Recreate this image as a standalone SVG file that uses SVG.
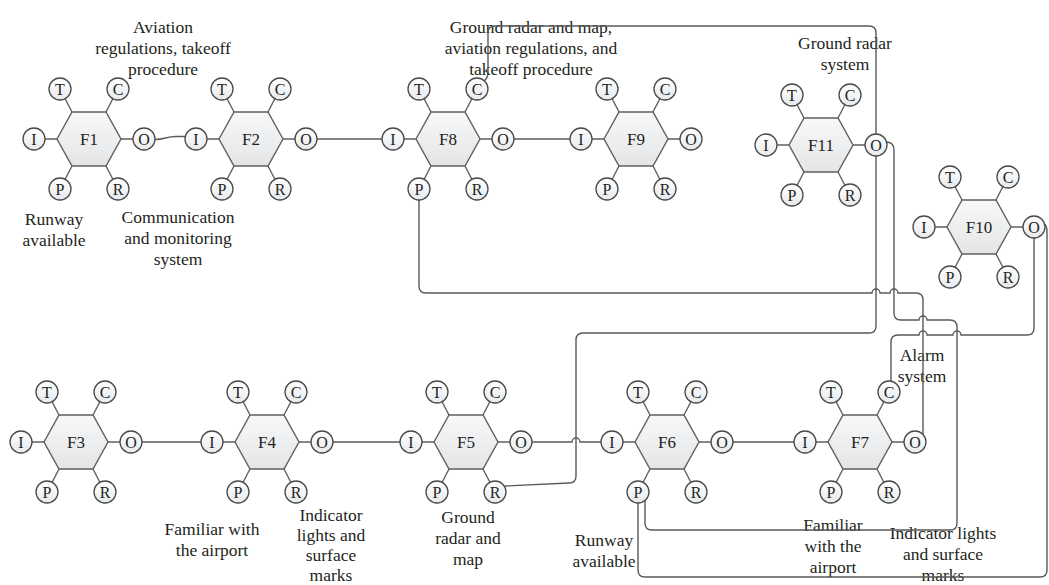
<svg xmlns="http://www.w3.org/2000/svg" xmlns:xlink="http://www.w3.org/1999/xlink" width="1049" height="585" viewBox="0 0 1049 585">
<style>
.hex{fill:url(#hexg);stroke:#5f5f5f;stroke-width:1.4}
.spoke{fill:none;stroke:#5f5f5f;stroke-width:1.4}
.asp{fill:url(#aspg);stroke:#4a4a4a;stroke-width:1.3}
.al{font-family:"Liberation Serif","Times New Roman",serif;font-size:16px;fill:#231f20;text-anchor:middle}
.fl{font-family:"Liberation Serif","Times New Roman",serif;font-size:17px;fill:#231f20;text-anchor:middle}
.lbl{font-family:"Liberation Serif","Times New Roman",serif;font-size:17.5px;fill:#231f20;text-anchor:middle}
.con{fill:none;stroke:#5a5a5a;stroke-width:1.4}
</style>
<defs>
<linearGradient id="hexg" x1="0" y1="0" x2="0" y2="1">
<stop offset="0" stop-color="#f7f8f9"/><stop offset="1" stop-color="#e3e5e7"/>
</linearGradient>
<linearGradient id="aspg" x1="0" y1="0" x2="0" y2="1">
<stop offset="0" stop-color="#ffffff"/><stop offset="1" stop-color="#e6eaee"/>
</linearGradient>
<g id="body">
<path class="spoke" d="M-32,0H-44 M32,0H44 M-17,-27L-23.9,-40.2 M17,-27L23.9,-40.2 M-17,27L-23.9,40.2 M17,27L23.9,40.2"/>
<polygon class="hex" points="-32,0 -17,-27 17,-27 32,0 17,27 -17,27"/>
<circle class="asp" cx="-55" cy="0" r="11"/>
<circle class="asp" cx="55" cy="0" r="11"/>
<circle class="asp" cx="-29" cy="-50" r="11"/>
<circle class="asp" cx="29" cy="-50" r="11"/>
<circle class="asp" cx="-29" cy="50" r="11"/>
<circle class="asp" cx="29" cy="50" r="11"/>
</g>
</defs>
<rect width="1049" height="585" fill="#ffffff"/>

<g id="labels">
<text class="lbl" x="163" y="33"><tspan x="163">Aviation</tspan><tspan x="163" dy="21">regulations, takeoff</tspan><tspan x="163" dy="21">procedure</tspan></text>
<text class="lbl" x="54" y="225"><tspan x="54">Runway</tspan><tspan x="54" dy="21">available</tspan></text>
<text class="lbl" x="178" y="223"><tspan x="178">Communication</tspan><tspan x="178" dy="21">and monitoring</tspan><tspan x="178" dy="21">system</tspan></text>
<text class="lbl" x="531" y="33"><tspan x="531">Ground radar and map,</tspan><tspan x="531" dy="21">aviation regulations, and</tspan><tspan x="531" dy="21">takeoff procedure</tspan></text>
<text class="lbl" x="845" y="49"><tspan x="845">Ground radar</tspan><tspan x="845" dy="21">system</tspan></text>
<text class="lbl" x="922" y="361"><tspan x="922">Alarm</tspan><tspan x="922" dy="21">system</tspan></text>
<text class="lbl" x="212" y="535"><tspan x="212">Familiar with</tspan><tspan x="212" dy="21">the airport</tspan></text>
<text class="lbl" x="331" y="521"><tspan x="331">Indicator</tspan><tspan x="331" dy="20">lights and</tspan><tspan x="331" dy="20">surface</tspan><tspan x="331" dy="20">marks</tspan></text>
<text class="lbl" x="468" y="523"><tspan x="468">Ground</tspan><tspan x="468" dy="21">radar and</tspan><tspan x="468" dy="21">map</tspan></text>
<text class="lbl" x="604" y="546"><tspan x="604">Runway</tspan><tspan x="604" dy="21">available</tspan></text>
<text class="lbl" x="833" y="531"><tspan x="833">Familiar</tspan><tspan x="833" dy="21">with the</tspan><tspan x="833" dy="21">airport</tspan></text>
<text class="lbl" x="943" y="539"><tspan x="943">Indicator lights</tspan><tspan x="943" dy="21">and surface</tspan><tspan x="943" dy="21">marks</tspan></text>
</g>

<g id="connectors">
<path class="con" d="M155,139.5 C165,139.5 166,136.5 176,136.5 L186,136.5"/>
<path class="con" d="M317,139 L382,139"/>
<path class="con" d="M514,139 L570,139"/>
<path class="con" d="M142,442 L201,442"/>
<path class="con" d="M333,442 L400,442"/>
<path class="con" d="M532,442 L572,442 A4,4 0 0 1 580,442 L601,442"/>
<path class="con" d="M733,442 L794,442"/>
<path class="con" d="M484,81 Q488,78 488,72 L488,33 Q488,26 495,26 L869,26 Q876,26 876,33 L876,326 Q876,333 869,333 L583,333 Q576,333 576,340 L576,476 Q576,483 569,483 L505,486"/>
<path class="con" d="M886,142 Q894,142 894,150 L894,313 Q894,320 901,320 L919,320 A4,4 0 0 1 927,320 L950,320 Q957,320 957,327 L957,523 Q957,530 950,530 L652,530 Q645,530 645,523 L645,500"/>
<path class="con" d="M1034,238 L1034,328 Q1034,335 1027,335 L961,335 A4,4 0 0 0 953,335 L927,335 A4,4 0 0 0 919,335 L898,335 Q891,335 891,342 L891,381"/>
<path class="con" d="M1044,224 Q1047,225 1047,232 L1047,570 Q1047,577 1040,577 L645,577 Q638,577 638,570 L638,503"/>
<path class="con" d="M923,435 L923,300 Q923,293 916,293 L898,293 A4,4 0 0 0 890,293 L880,293 A4,4 0 0 0 872,293 L426,293 Q419,293 419,286 L419,200"/>
</g>

<g id="F1" transform="translate(89,139)"><use xlink:href="#body" href="#body"/><text class="fl" x="0" y="6">F1</text><text class="al" x="-55" y="5.5">I</text><text class="al" x="55" y="5.5">O</text><text class="al" x="-29" y="-44.5">T</text><text class="al" x="29" y="-44.5">C</text><text class="al" x="-29" y="55.5">P</text><text class="al" x="29" y="55.5">R</text></g>
<g id="F2" transform="translate(251,139)"><use xlink:href="#body" href="#body"/><text class="fl" x="0" y="6">F2</text><text class="al" x="-55" y="5.5">I</text><text class="al" x="55" y="5.5">O</text><text class="al" x="-29" y="-44.5">T</text><text class="al" x="29" y="-44.5">C</text><text class="al" x="-29" y="55.5">P</text><text class="al" x="29" y="55.5">R</text></g>
<g id="F8" transform="translate(448,139)"><use xlink:href="#body" href="#body"/><text class="fl" x="0" y="6">F8</text><text class="al" x="-55" y="5.5">I</text><text class="al" x="55" y="5.5">O</text><text class="al" x="-29" y="-44.5">T</text><text class="al" x="29" y="-44.5">C</text><text class="al" x="-29" y="55.5">P</text><text class="al" x="29" y="55.5">R</text></g>
<g id="F9" transform="translate(636,139)"><use xlink:href="#body" href="#body"/><text class="fl" x="0" y="6">F9</text><text class="al" x="-55" y="5.5">I</text><text class="al" x="55" y="5.5">O</text><text class="al" x="-29" y="-44.5">T</text><text class="al" x="29" y="-44.5">C</text><text class="al" x="-29" y="55.5">P</text><text class="al" x="29" y="55.5">R</text></g>
<g id="F11" transform="translate(821,145)"><use xlink:href="#body" href="#body"/><text class="fl" x="0" y="6">F11</text><text class="al" x="-55" y="5.5">I</text><text class="al" x="55" y="5.5">O</text><text class="al" x="-29" y="-44.5">T</text><text class="al" x="29" y="-44.5">C</text><text class="al" x="-29" y="55.5">P</text><text class="al" x="29" y="55.5">R</text></g>
<g id="F10" transform="translate(979,227)"><use xlink:href="#body" href="#body"/><text class="fl" x="0" y="6">F10</text><text class="al" x="-55" y="5.5">I</text><text class="al" x="55" y="5.5">O</text><text class="al" x="-29" y="-44.5">T</text><text class="al" x="29" y="-44.5">C</text><text class="al" x="-29" y="55.5">P</text><text class="al" x="29" y="55.5">R</text></g>
<g id="F3" transform="translate(76,442)"><use xlink:href="#body" href="#body"/><text class="fl" x="0" y="6">F3</text><text class="al" x="-55" y="5.5">I</text><text class="al" x="55" y="5.5">O</text><text class="al" x="-29" y="-44.5">T</text><text class="al" x="29" y="-44.5">C</text><text class="al" x="-29" y="55.5">P</text><text class="al" x="29" y="55.5">R</text></g>
<g id="F4" transform="translate(267,442)"><use xlink:href="#body" href="#body"/><text class="fl" x="0" y="6">F4</text><text class="al" x="-55" y="5.5">I</text><text class="al" x="55" y="5.5">O</text><text class="al" x="-29" y="-44.5">T</text><text class="al" x="29" y="-44.5">C</text><text class="al" x="-29" y="55.5">P</text><text class="al" x="29" y="55.5">R</text></g>
<g id="F5" transform="translate(466,442)"><use xlink:href="#body" href="#body"/><text class="fl" x="0" y="6">F5</text><text class="al" x="-55" y="5.5">I</text><text class="al" x="55" y="5.5">O</text><text class="al" x="-29" y="-44.5">T</text><text class="al" x="29" y="-44.5">C</text><text class="al" x="-29" y="55.5">P</text><text class="al" x="29" y="55.5">R</text></g>
<g id="F6" transform="translate(667,442)"><use xlink:href="#body" href="#body"/><text class="fl" x="0" y="6">F6</text><text class="al" x="-55" y="5.5">I</text><text class="al" x="55" y="5.5">O</text><text class="al" x="-29" y="-44.5">T</text><text class="al" x="29" y="-44.5">C</text><text class="al" x="-29" y="55.5">P</text><text class="al" x="29" y="55.5">R</text></g>
<g id="F7" transform="translate(860,442)"><use xlink:href="#body" href="#body"/><text class="fl" x="0" y="6">F7</text><text class="al" x="-55" y="5.5">I</text><text class="al" x="55" y="5.5">O</text><text class="al" x="-29" y="-44.5">T</text><text class="al" x="29" y="-44.5">C</text><text class="al" x="-29" y="55.5">P</text><text class="al" x="29" y="55.5">R</text></g>
</svg>
